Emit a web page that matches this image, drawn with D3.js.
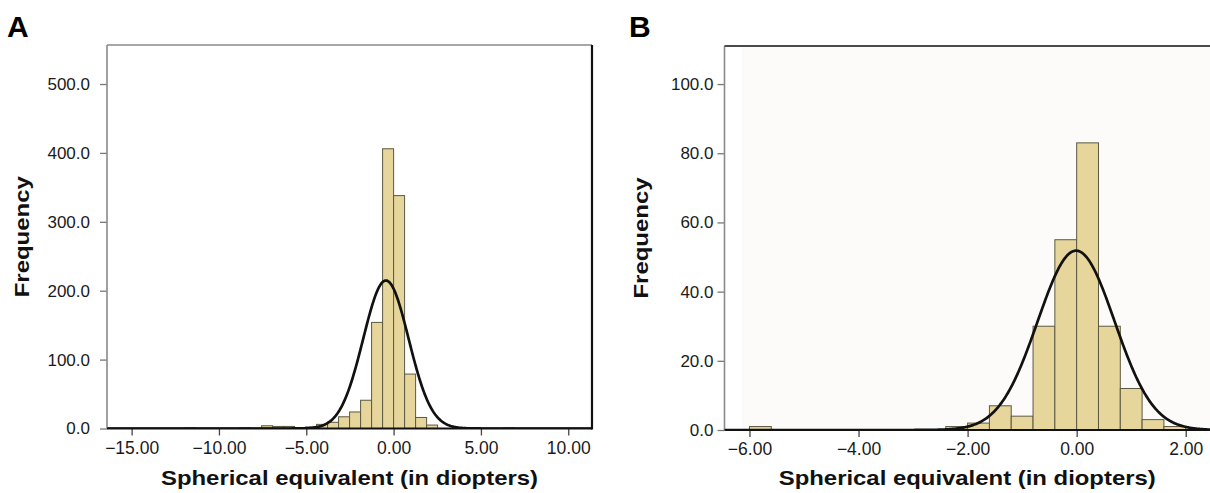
<!DOCTYPE html>
<html>
<head>
<meta charset="utf-8">
<script src="https://cdn.jsdelivr.net/npm/d3@7/dist/d3.min.js"></script>
<style>
  html, body { margin: 0; padding: 0; background: #ffffff; }
  svg { display: block; font-family: "Liberation Sans", Arial, Helvetica, sans-serif; }
</style>
</head>
<body>
<svg id="chart" width="1210" height="493"></svg>
<script>
// ---------- Data ----------
// Panel A
const binLeftA = [-11.97, -8.82, -7.56, -6.93, -6.30, -5.04, -4.41, -3.78, -3.15, -2.52, -1.89, -1.26, -0.63, 0.00, 0.63, 1.26, 1.89, 4.41, 6.30];
const countsA  = [1, 1, 4, 3, 3, 2, 6, 9, 17, 24, 41, 154, 406, 338, 79, 16, 5, 1, 1];
const binWidthA = 0.63;
const meanA = -0.44, sdA = 1.30;
const xTicksA = [-15, -10, -5, 0, 5, 10];
const yTicksA = [0, 100, 200, 300, 400, 500];

// Panel B
const binLeftB = [-6.0, -2.4, -2.0, -1.6, -1.2, -0.8, -0.4, 0.0, 0.4, 0.8, 1.2, 1.6];
const countsB  = [1, 1, 2, 7, 4, 30, 55, 83, 30, 12, 3, 1];
const binWidthB = 0.4;
const meanB = -0.01, sdB = 0.705;
const xTicksB = [-6, -4, -2, 0, 2];
const yTicksB = [0, 20, 40, 60, 80, 100];

const panelLabels = ["A", "B"];
const xTitle = "Spherical equivalent (in diopters)";
const yTitle = "Frequency";

// ---------- Drawing ----------
const svg = d3.select("#chart");
const barFill = "#e6d69c";
const barStroke = "#5c5842";

function fmtX(d) { return (d < 0 ? "\u2212" : "") + Math.abs(d).toFixed(2); }
function fmtY(d) { return d.toFixed(1); }

function drawPanel(cfg) {
  const g = svg.append("g");
  const x = d3.scaleLinear().domain(cfg.xDomain).range([cfg.left, cfg.right]);
  const y = d3.scaleLinear().domain(cfg.yDomain).range([cfg.bottom, cfg.top]);

  if (cfg.bgFill) {
    g.append("rect").attr("x", cfg.bgStart).attr("y", cfg.top)
      .attr("width", cfg.right - cfg.bgStart).attr("height", cfg.bottom - cfg.top)
      .attr("fill", cfg.bgFill);
  }

  const clipId = "clip" + cfg.id;
  svg.append("defs").append("clipPath").attr("id", clipId)
    .append("rect").attr("x", cfg.left).attr("y", cfg.top)
    .attr("width", cfg.right - cfg.left).attr("height", cfg.bottom - cfg.top);

  const plot = g.append("g").attr("clip-path", `url(#${clipId})`);

  plot.selectAll("rect.bar").data(cfg.binLeft.map((b, i) => ({ b, c: cfg.counts[i] })))
    .enter().append("rect").attr("class", "bar")
    .attr("x", d => x(d.b))
    .attr("width", d => x(d.b + cfg.binWidth) - x(d.b))
    .attr("y", d => y(d.c))
    .attr("height", d => y(0) - y(d.c))
    .attr("fill", barFill)
    .attr("stroke", barStroke)
    .attr("stroke-width", 1);

  const N = d3.sum(cfg.counts);
  const amp = N * cfg.binWidth / (cfg.sd * Math.sqrt(2 * Math.PI));
  const pts = d3.range(0, 601).map(i => {
    const xv = cfg.xDomain[0] + (cfg.xDomain[1] - cfg.xDomain[0]) * i / 600;
    const z = (xv - cfg.mean) / cfg.sd;
    return [xv, amp * Math.exp(-0.5 * z * z)];
  });
  plot.append("path").datum(pts)
    .attr("d", d3.line().x(d => x(d[0])).y(d => y(d[1])))
    .attr("fill", "none").attr("stroke", "#111").attr("stroke-width", 2.7)
    .attr("stroke-linejoin", "round");

  const xAxis = d3.axisBottom(x).tickValues(cfg.xTicks).tickFormat(fmtX)
    .tickSizeOuter(0).tickSizeInner(7).tickPadding(6);
  const xg = g.append("g").attr("transform", `translate(0,${cfg.bottom})`).call(xAxis);
  xg.select(".domain").remove();
  xg.selectAll(".tick line").attr("stroke", "#444").attr("stroke-width", 1.3);
  xg.selectAll(".tick text").attr("font-size", 17.5).attr("fill", "#1a1a1a")
    .attr("font-family", "Liberation Sans, Arial, sans-serif");

  const yAxis = d3.axisLeft(y).tickValues(cfg.yTicks).tickFormat(fmtY)
    .tickSizeOuter(0).tickSizeInner(7).tickPadding(cfg.yPad);
  const yg = g.append("g").attr("transform", `translate(${cfg.left},0)`).call(yAxis);
  yg.select(".domain").remove();
  yg.selectAll(".tick line").attr("stroke", "#777").attr("stroke-width", 1.3);
  yg.selectAll(".tick text").attr("font-size", 17).attr("fill", "#1a1a1a")
    .attr("font-family", "Liberation Sans, Arial, sans-serif");

  g.append("line").attr("x1", cfg.left).attr("x2", cfg.left).attr("y1", cfg.top).attr("y2", cfg.bottom)
    .attr("stroke", "#8a8a8a").attr("stroke-width", 1.6);
  g.append("line").attr("x1", cfg.left).attr("x2", cfg.right).attr("y1", cfg.top).attr("y2", cfg.top)
    .attr("stroke", cfg.topColor).attr("stroke-width", cfg.topWidth);
  if (cfg.rightColor) {
    g.append("line").attr("x1", cfg.right).attr("x2", cfg.right).attr("y1", cfg.top).attr("y2", cfg.bottom + 1)
      .attr("stroke", cfg.rightColor).attr("stroke-width", 2.2);
  }
  g.append("line").attr("x1", cfg.left).attr("x2", cfg.right).attr("y1", cfg.bottom).attr("y2", cfg.bottom)
    .attr("stroke", "#111").attr("stroke-width", 2);

  g.append("text").attr("x", (cfg.left + cfg.right) / 2).attr("y", 485)
    .attr("text-anchor", "middle").attr("font-weight", "bold").attr("font-size", 21)
    .attr("textLength", 377).attr("lengthAdjust", "spacingAndGlyphs")
    .attr("fill", "#111").text(xTitle);

  g.append("text").attr("transform", `translate(${cfg.yTitleX},${(cfg.top + cfg.bottom) / 2}) rotate(-90)`)
    .attr("text-anchor", "middle").attr("font-weight", "bold").attr("font-size", 21)
    .attr("textLength", 121).attr("lengthAdjust", "spacingAndGlyphs")
    .attr("fill", "#111").text(yTitle);

  g.append("text").attr("x", cfg.labelX).attr("y", 37)
    .attr("font-weight", "bold").attr("font-size", 30).attr("fill", "#000")
    .text(cfg.label);
}

drawPanel({
  id: "A", label: panelLabels[0], labelX: 7,
  left: 107, right: 592, top: 45, bottom: 428.5,
  xDomain: [-16.41, 11.36], yDomain: [0, 556.6],
  xTicks: xTicksA, yTicks: yTicksA,
  binLeft: binLeftA, counts: countsA, binWidth: binWidthA,
  mean: meanA, sd: sdA,
  yPad: 10, yTitleX: 29,
  topColor: "#8a8a8a", topWidth: 1.6, rightColor: "#111"
});

drawPanel({
  id: "B", label: panelLabels[1], labelX: 629,
  left: 724.5, right: 1210, top: 46, bottom: 430,
  xDomain: [-6.458, 2.445], yDomain: [0, 111],
  xTicks: xTicksB, yTicks: yTicksB,
  binLeft: binLeftB, counts: countsB, binWidth: binWidthB,
  mean: meanB, sd: sdB,
  yPad: 4, yTitleX: 647.5,
  topColor: "#4a4a4a", topWidth: 2.2, rightColor: null,
  bgFill: "#fdfbfa", bgStart: 742
});
</script>
</body>
</html>
